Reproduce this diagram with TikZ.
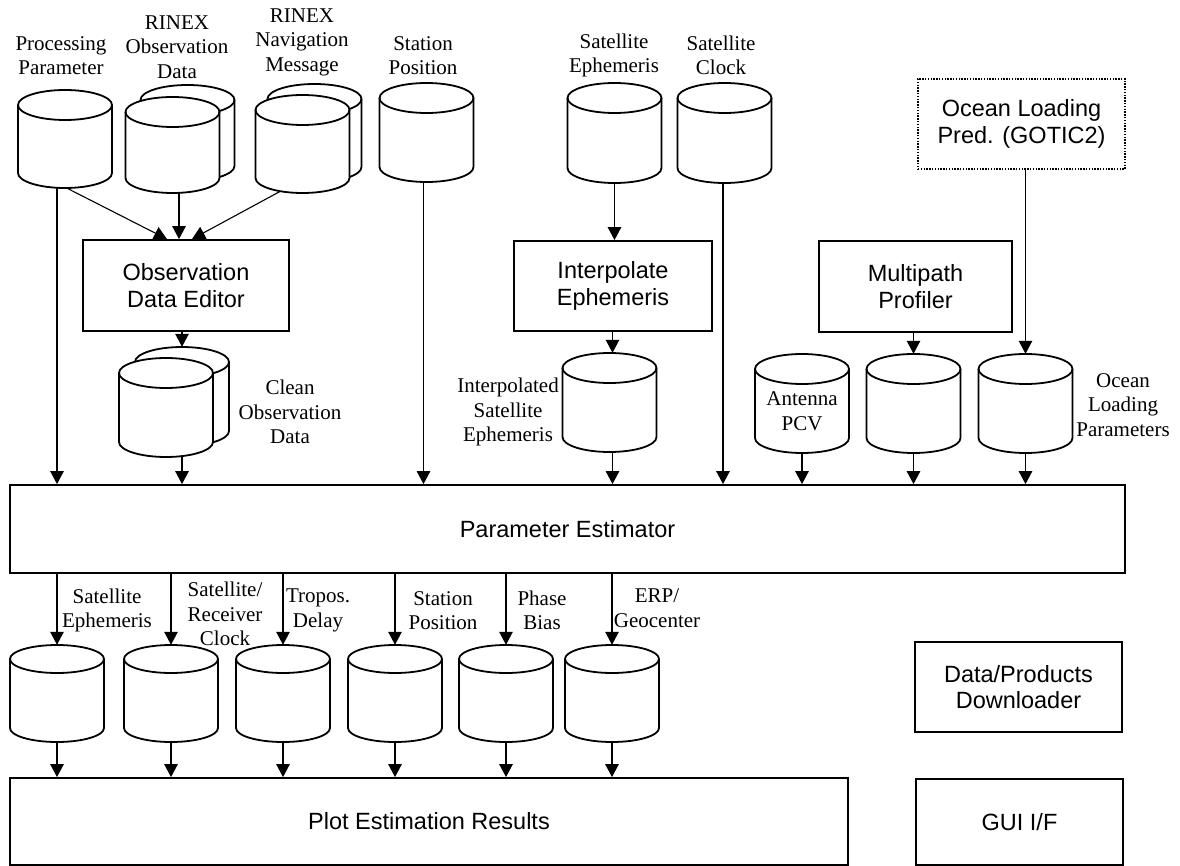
\documentclass[tikz,border=0pt]{standalone}
\usepackage{fontspec}
\setmainfont{Liberation Serif}
\newfontfamily\arialfont{Liberation Sans}
\usetikzlibrary{arrows.meta}

\tikzset{
  drumnode/.style={inner sep=0pt, minimum width=94pt, draw=none},
  drumline/.style={line width=1.8pt, line join=round},
  procbox/.style={draw, line width=1.8pt, fill=white, inner sep=0pt, align=center,
    font=\arialfont\fontsize{23.5}{26.5}\selectfont},
  dotbox/.style={procbox, dash pattern=on 1.4pt off 1.4pt, line width=1.7pt},
  lbl/.style={inner sep=0pt, align=center, font=\fontsize{21}{24.5}\selectfont},
  flow/.style={line width=1.1pt, -{Triangle[width=13.5pt,length=13pt]}},
}

% data store: #1 name, #2 centre x, #3 top y, #4 height, #5 cap radius
\newcommand\drum[5]{%
  \node[drumnode, minimum height=#4pt] (#1) at (#2,#3+#4/2) {};
  \draw[drumline, fill=white] (#2-47,#3+#5) -- (#2-47,#3+#4-#5)
    arc[start angle=180, end angle=360, x radius=47pt, y radius=#5pt]
    -- (#2+47,#3+#5)
    arc[start angle=0, end angle=180, x radius=47pt, y radius=#5pt] -- cycle;
  \draw[drumline] (#2-47,#3+#5)
    arc[start angle=180, end angle=360, x radius=47pt, y radius=#5pt];
}
% stacked data store: #1 name, #2 centre x, #3 top y, #4 height, #5 dx, #6 dy
\newcommand\stackdrum[6]{%
  \drum{#1-back}{#2+#5}{#3-#6}{#4}{15}
  \drum{#1}{#2}{#3}{#4}{15}
}

\begin{document}
\begin{tikzpicture}[x=1pt, y=-1pt]
\useasboundingbox (0,0) rectangle (1180,866);

% ---------- input stores ----------
\drum{pp}{65}{90}{98}{15}
\stackdrum{ro}{172.5}{97}{96}{15}{12}
\stackdrum{rn}{302.5}{95}{98}{12}{11}
\drum{sp}{426.5}{83}{99}{15}
\drum{se}{614.5}{83}{100}{15}
\drum{sc}{724.5}{83}{100}{15}

\node[lbl] (pp-l) at (61,55.5) {Processing\\Parameter};
\node[lbl] (ro-l) at (177,47) {RINEX\\Observation\\Data};
\node[lbl] (rn-l) at (302,42) {RINEX\\Navigation\\Message};
\node[lbl] (sp-l) at (423,55.5) {Station\\Position};
\node[lbl] (se-l) at (614,55.5) {Satellite\\Ephemeris};
\node[lbl] (sc-l) at (721,55.5) {Satellite\\Clock};

% ---------- processing boxes ----------
\node[dotbox, minimum width=207pt, minimum height=90pt] (ol) at (1021.5,124) {Ocean Loading\\Pred. (GOTIC2)};
\node[procbox, minimum width=206pt, minimum height=91pt] (ode) at (186,285.5) {Observation\\Data Editor};
\node[procbox, minimum width=198pt, minimum height=90pt] (ie) at (613,286) {Interpolate\\Ephemeris};
\node[procbox, minimum width=193pt, minimum height=91pt] (mp) at (915.5,286.5) {Multipath\\Profiler};

% ---------- intermediate stores ----------
\stackdrum{cl}{166}{358}{99}{16}{11}
\drum{ic}{609.5}{353}{99}{15}
\drum{ac}{802}{354}{99}{15}
\drum{mc}{913.5}{354}{99}{15}
\drum{oc}{1025.5}{354}{99}{15}

\node[lbl] (cl-l) at (290,412) {Clean\\Observation\\Data};
\node[lbl] (ic-l) at (508,412) {Interpolated\\Satellite\\Ephemeris};
\node[lbl] (ac-l) at (802,411) {Antenna\\PCV};
\node[lbl] (oc-l) at (1123,405) {Ocean\\Loading\\Parameters};

% ---------- estimator ----------
\node[procbox, minimum width=1115pt, minimum height=88pt] (pe) at (567.5,529) {Parameter Estimator};

% ---------- output stores ----------
\drum{b1}{57}{645}{97}{14}
\drum{b2}{171}{645}{97}{14}
\drum{b3}{283}{645}{97}{14}
\drum{b4}{395}{645}{97}{14}
\drum{b5}{506}{645}{97}{14}
\drum{b6}{612}{645}{97}{14}

\node[lbl] (b1-l) at (107,610.5) {Satellite\\Ephemeris};
\node[lbl] (b2-l) at (225,614) {Satellite/\\Receiver\\Clock};
\node[lbl] (b3-l) at (318,610.5) {Tropos.\\Delay};
\node[lbl] (b4-l) at (443,610.5) {Station\\Position};
\node[lbl] (b5-l) at (542,610.5) {Phase\\Bias};
\node[lbl] (b6-l) at (657,608) {ERP/\\Geocenter};

% ---------- bottom boxes ----------
\node[procbox, minimum width=838pt, minimum height=87pt] (plot) at (429,821.5) {Plot Estimation Results};
\node[procbox, minimum width=207pt, minimum height=90pt] (dl) at (1018.5,687) {Data/Products\\Downloader};
\node[procbox, minimum width=207pt, minimum height=86pt] (gui) at (1019.5,822) {GUI I/F};

% ---------- connectors ----------
\draw[flow] ([xshift=2pt]pp.south) -- ([xshift=-19pt]ode.north);
\draw[flow] ([xshift=6.5pt]ro.south) -- ([xshift=6.5pt]ro.south |- ode.north);
\draw[flow] ([xshift=-22pt,yshift=2pt]rn.south) -- ([xshift=6pt]ode.north);

\draw[flow] ([xshift=-8pt]pp.south) -- ([xshift=-8pt]pp.south |- pe.north);
\draw[flow] (cl-back.north |- ode.south) -- (cl-back.north);
\draw[flow] ([xshift=16pt,yshift=1.5pt]cl.south) -- ([xshift=16pt]cl.south |- pe.north);
\draw[flow] ([xshift=-3pt]sp.south) -- ([xshift=-3pt]sp.south |- pe.north);

\draw[flow] (se.south) -- (se.south |- ie.north);
\draw[flow] ([xshift=3pt]ic.north |- ie.south) -- ([xshift=3pt]ic.north);
\draw[flow] ([xshift=3pt]ic.south) -- ([xshift=3pt]ic.south |- pe.north);
\draw[flow] ([xshift=-1.5pt]sc.south) -- ([xshift=-1.5pt]sc.south |- pe.north);

\draw[flow] (ac.south) -- (ac.south |- pe.north);
\draw[flow] (mc.north |- mp.south) -- (mc.north);
\draw[flow] (mc.south) -- (mc.south |- pe.north);
\draw[flow] (oc.north |- ol.south) -- (oc.north);
\draw[flow] (oc.south) -- (oc.south |- pe.north);

\foreach \b in {b1,b2,b3,b4,b5,b6}{
  \draw[flow] (\b.north |- pe.south) -- (\b.north);
  \draw[flow] (\b.south) -- (\b.south |- plot.north);
}
\end{tikzpicture}
\end{document}
